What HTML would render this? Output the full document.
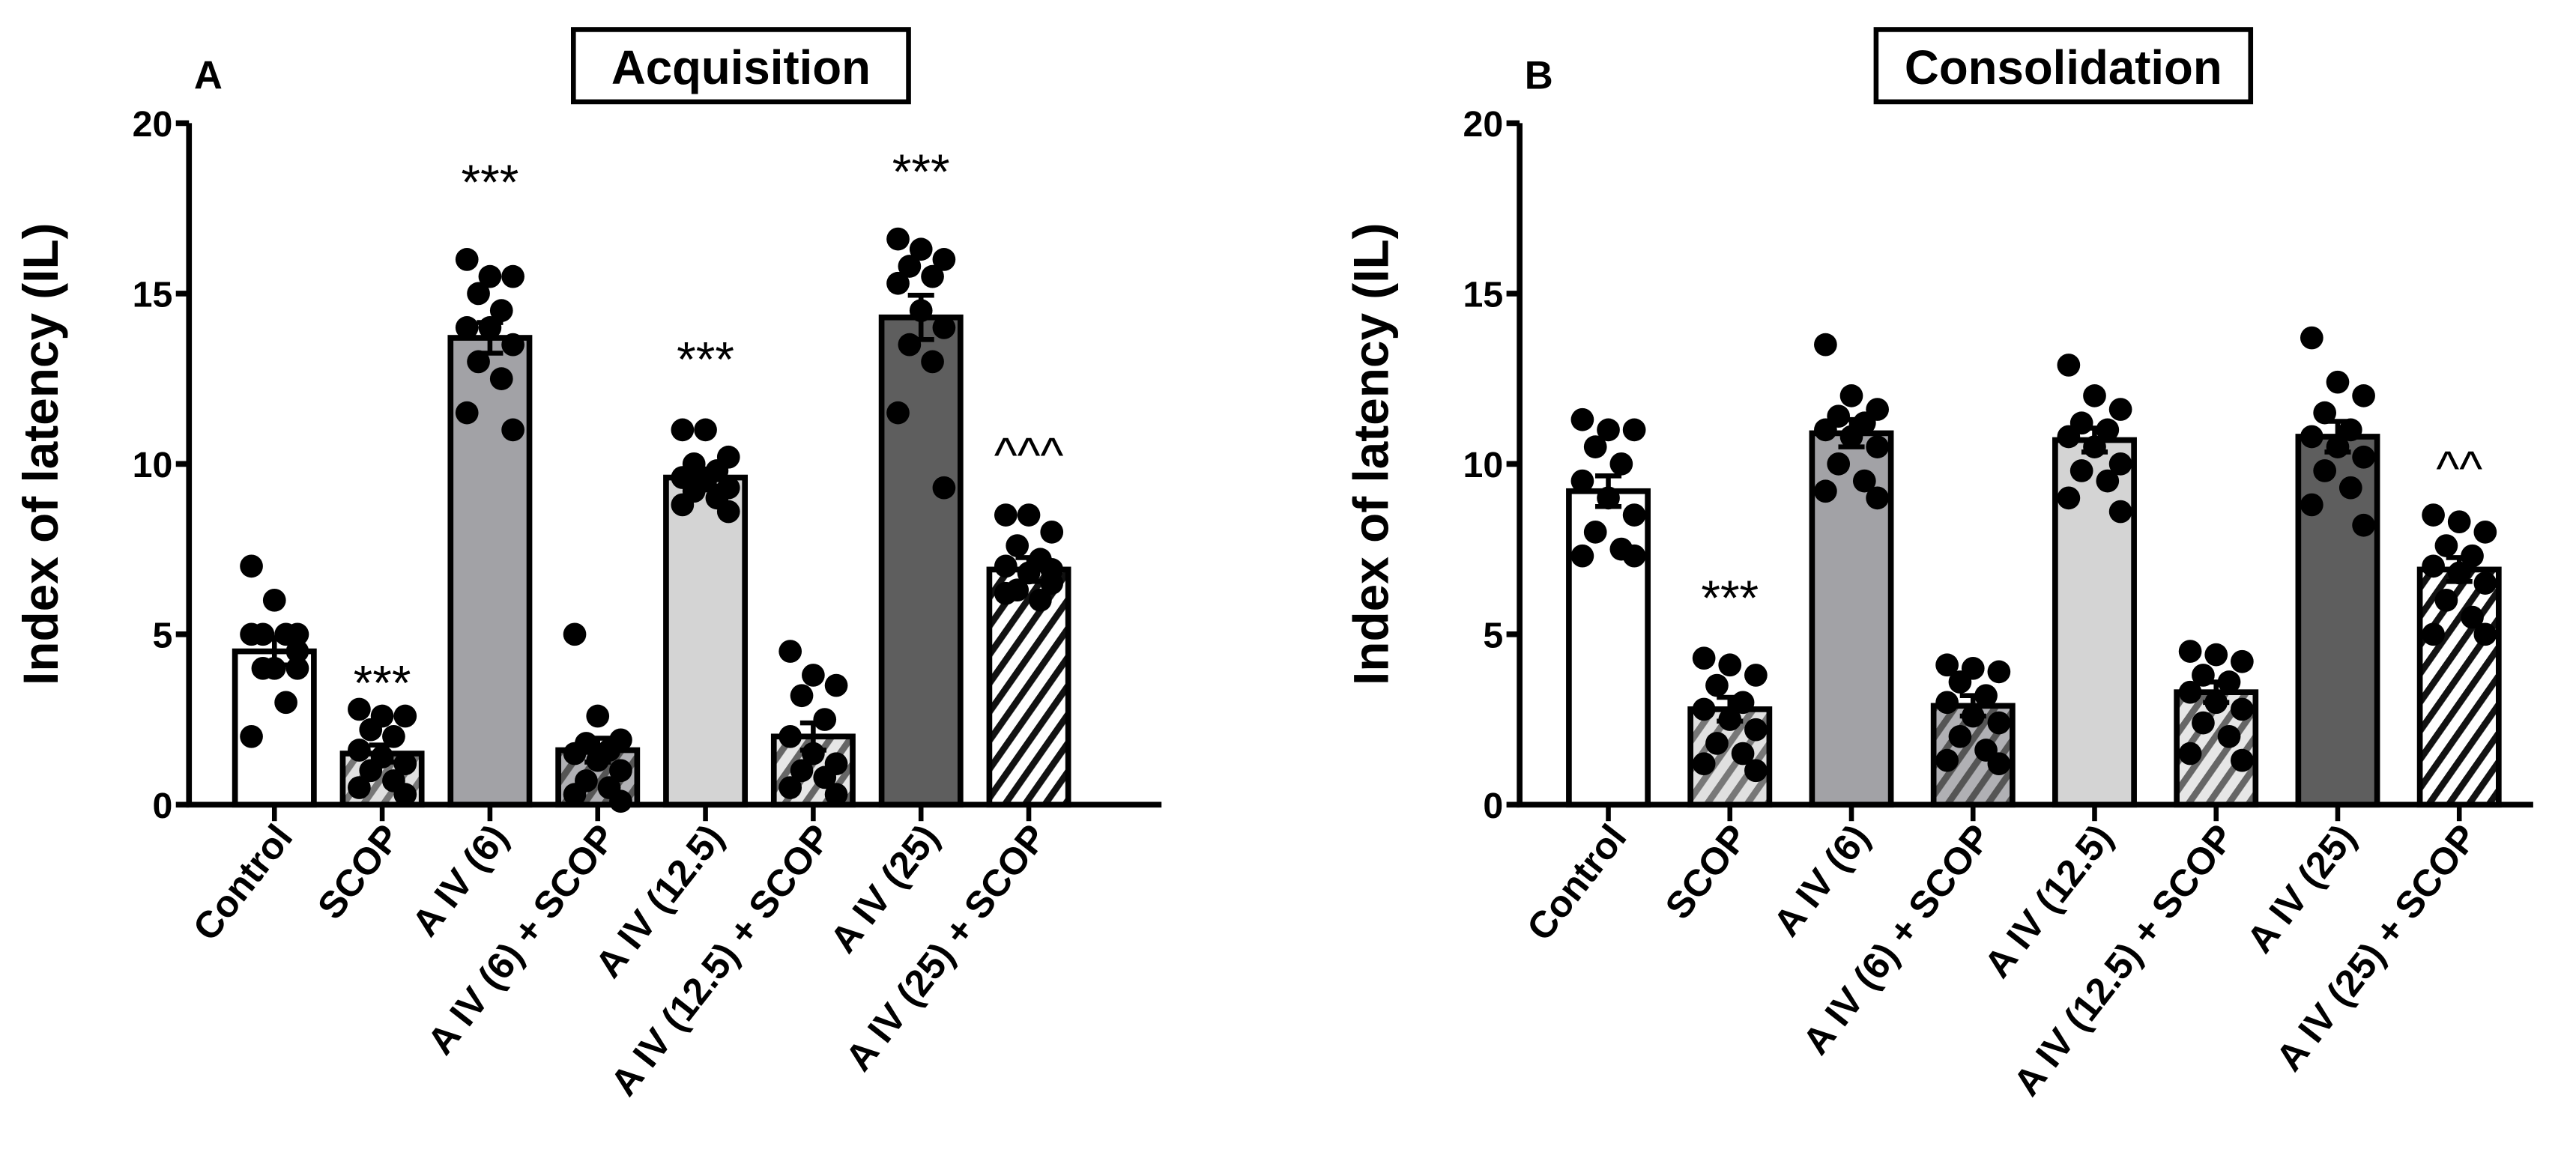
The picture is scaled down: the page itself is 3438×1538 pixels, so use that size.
<!DOCTYPE html>
<html><head><meta charset="utf-8">
<style>
html,body{margin:0;padding:0;background:#fff;}
svg{display:block;font-family:"Liberation Sans",Arial,sans-serif;font-weight:bold;}
</style></head>
<body>
<svg id="chart" width="3438" height="1538" viewBox="0 0 1568 701.5" xmlns="http://www.w3.org/2000/svg">
<defs>
<pattern id="hatch-scop" patternUnits="userSpaceOnUse" width="10" height="10" patternTransform="rotate(35)"><rect width="10" height="10" fill="#e0e0e0"/><rect width="4" height="10" fill="#777"/></pattern>
<pattern id="hatch-a6" patternUnits="userSpaceOnUse" width="10" height="10" patternTransform="rotate(35)"><rect width="10" height="10" fill="#b0b0b4"/><rect width="4" height="10" fill="#555"/></pattern>
<pattern id="hatch-a12" patternUnits="userSpaceOnUse" width="10" height="10" patternTransform="rotate(35)"><rect width="10" height="10" fill="#e6e6e6"/><rect width="4" height="10" fill="#666"/></pattern>
<pattern id="hatch-a25" patternUnits="userSpaceOnUse" width="10" height="10" patternTransform="rotate(35)"><rect width="10" height="10" fill="#fff"/><rect width="4" height="10" fill="#111"/></pattern>
</defs>
</svg>
<script>
const categories = ["Control","SCOP","A IV (6)","A IV (6) + SCOP","A IV (12.5)","A IV (12.5) + SCOP","A IV (25)","A IV (25) + SCOP"];
const yTicks = [0,5,10,15,20];
const acqMeans = [4.5,1.5,13.7,1.6,9.6,2.0,14.3,6.9];
const acqSem = [0.4,0.25,0.45,0.35,0.25,0.4,0.65,0.35];
const conMeans = [9.2,2.8,10.9,2.9,10.7,3.3,10.8,6.9];
const conSem = [0.45,0.35,0.4,0.3,0.35,0.3,0.45,0.35];
const acqPoints = [
 [7.0,6.0,5.0,5.0,5.0,5.0,4.0,4.0,4.0,3.0,2.0,4.5],
 [2.8,2.6,2.6,2.2,2.0,1.6,1.4,1.2,1.0,0.7,0.5,0.3],
 [16.0,15.5,15.5,15.0,14.5,14.0,14.0,13.5,13.0,12.5,11.5,11.0],
 [5.0,2.6,1.9,1.8,1.6,1.5,1.3,1.0,0.7,0.5,0.3,0.1],
 [11.0,11.0,10.2,10.0,9.8,9.6,9.5,9.3,9.2,9.0,8.8,8.6],
 [4.5,3.8,3.5,3.2,2.5,2.0,1.5,1.2,1.0,0.8,0.5,0.3],
 [16.6,16.3,16.0,15.8,15.5,15.3,14.5,14.0,13.5,13.0,11.5,9.3],
 [8.5,8.5,8.0,7.6,7.2,7.0,6.8,6.5,6.3,6.0,6.2,6.9]];
const conPoints = [
 [11.3,11.0,11.0,10.5,10.0,9.5,9.0,8.5,8.0,7.5,7.3,7.3],
 [4.3,4.1,3.8,3.5,3.0,2.8,2.5,2.2,1.8,1.5,1.2,1.0],
 [13.5,12.0,11.6,11.4,11.2,11.0,10.8,10.5,10.0,9.5,9.2,9.0],
 [4.1,4.0,3.9,3.6,3.2,3.0,2.6,2.4,2.0,1.6,1.3,1.2],
 [12.9,12.0,11.6,11.2,11.0,10.8,10.5,10.0,9.8,9.5,9.0,8.6],
 [4.5,4.4,4.2,3.8,3.6,3.3,3.0,2.8,2.4,2.0,1.5,1.3],
 [13.7,12.4,12.0,11.5,11.0,10.8,10.5,10.2,9.8,9.3,8.8,8.2],
 [8.5,8.3,8.0,7.6,7.3,7.0,6.8,6.5,6.0,5.5,5.0,5.0]];
const acqMarks = ["","***","***","","***","","***","^^^"];
const acqMarkY = [0,3.6,18.3,0,13.1,0,18.6,10.3];
const conMarks = ["","***","","","","","","^^"];
const conMarkY = [0,6.1,0,0,0,0,0,9.9];

const NS="http://www.w3.org/2000/svg";
const svg=document.getElementById('chart');
const fills=["#ffffff","url(#hatch-scop)","#a2a2a6","url(#hatch-a6)","#d4d4d4","url(#hatch-a12)","#5e5e5e","url(#hatch-a25)"];
const jit=[-14,0,14,-7,7,-14,0,14,-7,7,-14,14];
function mk(tag,attrs,parent){const e=document.createElementNS(NS,tag);for(const k in attrs)e.setAttribute(k,attrs[k]);(parent||svg).appendChild(e);return e;}

function panel(cfg){
  const g=mk('g',{});
  
  
  const y0=490,y1=75,vmax=20;
  const ys=v=>y0-(y0-y1)*v/vmax;
  const xs=i=>cfg.first+i*cfg.step;
  const bw=cfg.bw;
  cfg.means.forEach((m,i)=>{
    const r=mk('rect',{x:xs(i)-bw/2,y:ys(m),width:bw,height:y0-ys(m),fill:fills[i],stroke:"#000","stroke-width":3.5},g);
    
    
  });
  cfg.points.forEach((arr,i)=>{arr.forEach((v,j)=>{
    const c=mk('circle',{cx:xs(i)+jit[j%jit.length]*cfg.step/65.6,cy:ys(v),r:7,fill:"#000"},g);
    
    
  });});
  cfg.means.forEach((m,i)=>{
    const e=mk('path',{d:`M${xs(i)},${ys(m-cfg.sem[i])}V${ys(m+cfg.sem[i])}M${xs(i)-8},${ys(m+cfg.sem[i])}H${xs(i)+8}M${xs(i)-8},${ys(m-cfg.sem[i])}H${xs(i)+8}`,stroke:"#000","stroke-width":3,fill:"none"},g);
    
    
  });
  const ax=mk('path',{d:`M${cfg.ax},${y1}V${y0}H${cfg.axEnd}`,stroke:"#000","stroke-width":3.5,fill:"none"},g);
  
  
  yTicks.forEach(t=>{
    mk('line',{x1:cfg.ax-8,x2:cfg.ax,y1:ys(t),y2:ys(t),stroke:"#000","stroke-width":3.5},g);
    const tx=mk('text',{x:cfg.ax-10,y:ys(t)+8,"text-anchor":"end","font-size":22},g);
    tx.textContent=t;
    
    
  });
  categories.forEach((c,i)=>{
    mk('line',{x1:xs(i),x2:xs(i),y1:y0,y2:y0+10,stroke:"#000","stroke-width":3},g);
    const tx=mk('text',{x:0,y:0,"text-anchor":"end","font-size":23,transform:`translate(${xs(i)+12},${y0+20}) rotate(-52)`},g);
    tx.textContent=c;
    
    
  });
  cfg.marks.forEach((s,i)=>{ if(!s)return;
    const tx=mk('text',{x:xs(i),y:ys(cfg.markY[i])+11,"text-anchor":"middle","font-size":30,"font-weight":"normal"},g);
    tx.textContent=s;
    
    
  });
  const yt=mk('text',{x:0,y:0,"text-anchor":"middle","font-size":30,transform:`translate(${cfg.ax-80},${(y0+y1)/2-6}) rotate(-90)`},g);
  yt.textContent="Index of latency (IL)";
  
  
  const pl=mk('text',{x:cfg.ax+3,y:54,"font-size":24},g);
  pl.textContent=cfg.letter;
  
  
  const bx=mk('rect',{x:cfg.boxX,y:18,width:cfg.boxW,height:44,fill:"#fff",stroke:"#000","stroke-width":3},g);
  
  
  const tt=mk('text',{x:cfg.boxX+cfg.boxW/2,y:51,"text-anchor":"middle","font-size":29},g);
  tt.textContent=cfg.title;
  
  
}
panel({name:'panel-acquisition',means:acqMeans,sem:acqSem,points:acqPoints,marks:acqMarks,markY:acqMarkY,first:167,step:65.6,bw:48,ax:115,axEnd:707,letter:"A",title:"Acquisition",boxX:349,boxW:204});
panel({name:'panel-consolidation',means:conMeans,sem:conSem,points:conPoints,marks:conMarks,markY:conMarkY,first:979,step:74,bw:48,ax:925,axEnd:1542,letter:"B",title:"Consolidation",boxX:1142,boxW:228});
</script>
</body></html>
